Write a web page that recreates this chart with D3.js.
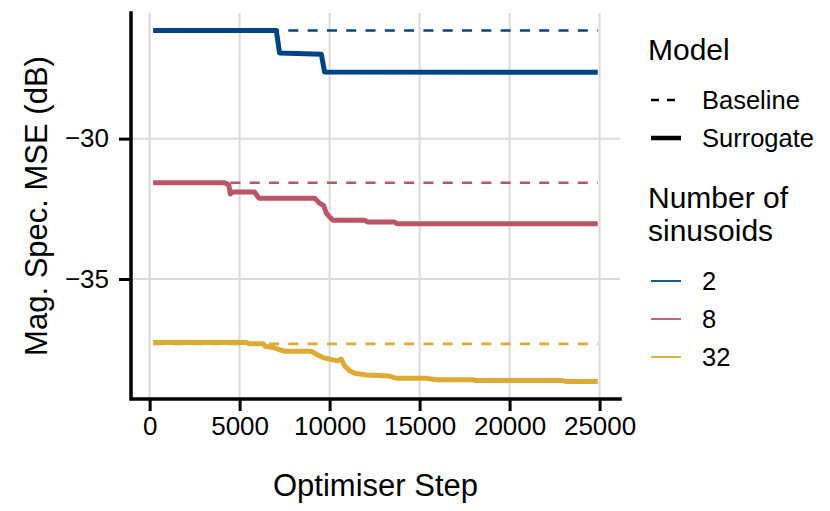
<!DOCTYPE html>
<html>
<head>
<meta charset="utf-8">
<script src="https://cdn.jsdelivr.net/npm/d3@7"></script>
<style>
  html, body { margin: 0; padding: 0; background: #fff; }
  svg { display: block; font-family: "Liberation Sans", Arial, sans-serif; }
</style>
</head>
<body>
<div id="chart"></div>
<script>
// number of sinusoids (legend order) and colours
const sinusoids = ["2", "8", "32"];
const colours = ["#004488", "#BB5566", "#DDAA33"];

// baseline MSE per sinusoid count (flat, dashed)
const baselineMSE = [-26.15, -31.57, -37.31];
const stepRange = [200, 24900];

// surrogate curves
const surrogate2Step = [200, 7040, 7220, 9540, 9720, 24900];
const surrogate2MSE  = [-26.15, -26.15, -26.95, -26.99, -27.63, -27.64];

const surrogate8Step = [200, 4170, 4400, 4480, 4630, 5830, 6070, 9170, 9440, 9670, 9815, 10000, 10190, 11940, 12130, 13610, 13740, 24900];
const surrogate8MSE  = [-31.57, -31.57, -31.65, -31.97, -31.90, -31.90, -32.12, -32.12, -32.30, -32.39, -32.65, -32.79, -32.91, -32.91, -32.97, -32.97, -33.03, -33.03];

const surrogate32Step = [200, 5330, 5560, 6300, 6440, 6850, 7320, 7500, 8980, 9260, 9630, 10190, 10460, 10650, 10830, 11110, 11390, 12040, 13330, 13700, 15370, 15930, 17960, 18150, 22960, 23150, 24900];
const surrogate32MSE  = [-37.26, -37.26, -37.31, -37.31, -37.40, -37.44, -37.54, -37.57, -37.57, -37.68, -37.80, -37.88, -37.91, -37.85, -38.09, -38.27, -38.36, -38.42, -38.46, -38.54, -38.54, -38.59, -38.59, -38.62, -38.62, -38.65, -38.65];

const xTicks = [0, 5000, 10000, 15000, 20000, 25000];
const yTicks = [-35, -30];
const modelLabels = ["Baseline", "Surrogate"];

const W = 830, H = 511;
const panel = { left: 131, right: 620, top: 13, bottom: 399 };

const svg = d3.select("#chart").append("svg")
  .attr("width", W).attr("height", H);

// ggplot-like 5% expansion
function expand(lo, hi) { const d = (hi - lo) * 0.05; return [lo - d, hi + d]; }

const allMSE = baselineMSE.concat(surrogate2MSE, surrogate8MSE, surrogate32MSE);
const x = d3.scaleLinear().domain(expand(stepRange[0], stepRange[1])).range([panel.left, panel.right]);
const y = d3.scaleLinear().domain(expand(d3.min(allMSE), d3.max(allMSE))).range([panel.bottom, panel.top]);

// grid
const grid = svg.append("g").attr("stroke", "#d9d9d9").attr("stroke-width", 2);
grid.selectAll("line.vx").data(xTicks).join("line")
  .attr("x1", d => x(d)).attr("x2", d => x(d))
  .attr("y1", panel.top).attr("y2", panel.bottom);
grid.selectAll("line.hy").data(yTicks).join("line")
  .attr("x1", panel.left).attr("x2", panel.right)
  .attr("y1", d => y(d)).attr("y2", d => y(d));

// baselines (dashed)
svg.append("g").selectAll("line").data(baselineMSE).join("line")
  .attr("x1", x(stepRange[0])).attr("x2", x(stepRange[1]))
  .attr("y1", d => y(d)).attr("y2", d => y(d))
  .attr("stroke", (d, i) => colours[i])
  .attr("stroke-width", 2.6)
  .attr("stroke-dasharray", "10,9.3");

// surrogates
const series = [
  surrogate2Step.map((s, i) => [s, surrogate2MSE[i]]),
  surrogate8Step.map((s, i) => [s, surrogate8MSE[i]]),
  surrogate32Step.map((s, i) => [s, surrogate32MSE[i]])
];
const line = d3.line().x(d => x(d[0])).y(d => y(d[1]));
svg.append("g").selectAll("path").data(series).join("path")
  .attr("d", line)
  .attr("fill", "none")
  .attr("stroke", (d, i) => colours[i])
  .attr("stroke-width", 5)
  .attr("stroke-linejoin", "round");

// axes
const xAxis = svg.append("g").attr("transform", `translate(0,${panel.bottom})`)
  .call(d3.axisBottom(x).tickValues(xTicks).tickFormat(d3.format("d")).tickSize(12).tickPadding(6));
const yAxis = svg.append("g").attr("transform", `translate(${panel.left},0)`)
  .call(d3.axisLeft(y).tickValues(yTicks).tickSize(12).tickPadding(10));
[xAxis, yAxis].forEach(a => {
  a.select(".domain").remove();
  a.selectAll(".tick line").attr("stroke", "#000").attr("stroke-width", 3);
  a.selectAll(".tick text").attr("fill", "#000").attr("font-size", 26)
    .attr("font-family", "Liberation Sans, Arial, sans-serif");
});
xAxis.selectAll(".tick text").attr("dy", "0.71em");

// axis lines
svg.append("path")
  .attr("d", `M${panel.left},${panel.top}V${panel.bottom}H${panel.right}`)
  .attr("fill", "none").attr("stroke", "#000").attr("stroke-width", 3.5)
  .attr("stroke-linecap", "square");

// titles
svg.append("text")
  .attr("x", (panel.left + panel.right) / 2).attr("y", 496)
  .attr("text-anchor", "middle").attr("font-size", 31)
  .text("Optimiser Step");
svg.append("text")
  .attr("transform", `translate(47,${(panel.top + panel.bottom) / 2}) rotate(-90)`)
  .attr("text-anchor", "middle").attr("font-size", 31)
  .text("Mag. Spec. MSE (dB)");

// legend: Model
const lg = svg.append("g");
lg.append("text").attr("x", 648).attr("y", 60).attr("font-size", 30).text("Model");
const modelY = [100, 138];
lg.selectAll("line.m").data(modelLabels).join("line")
  .attr("x1", 651).attr("x2", 681)
  .attr("y1", (d, i) => modelY[i]).attr("y2", (d, i) => modelY[i])
  .attr("stroke", "#000")
  .attr("stroke-width", (d, i) => i === 0 ? 2.6 : 4.5)
  .attr("stroke-dasharray", (d, i) => i === 0 ? "8,8" : null);
lg.selectAll("text.m").data(modelLabels).join("text")
  .attr("x", 702).attr("y", (d, i) => modelY[i])
  .attr("dy", "0.35em").attr("font-size", 25.5).text(d => d);

// legend: Number of sinusoids
lg.append("text").attr("x", 648).attr("y", 208).attr("font-size", 30).text("Number of");
lg.append("text").attr("x", 648).attr("y", 241).attr("font-size", 30).text("sinusoids");
const sinY = [281, 319, 357];
lg.selectAll("line.s").data(sinusoids).join("line")
  .attr("x1", 651).attr("x2", 681)
  .attr("y1", (d, i) => sinY[i]).attr("y2", (d, i) => sinY[i])
  .attr("stroke", (d, i) => colours[i]).attr("stroke-width", 1.8);
lg.selectAll("text.s").data(sinusoids).join("text")
  .attr("x", 702).attr("y", (d, i) => sinY[i])
  .attr("dy", "0.35em").attr("font-size", 25.5).text(d => d);
</script>
</body>
</html>
